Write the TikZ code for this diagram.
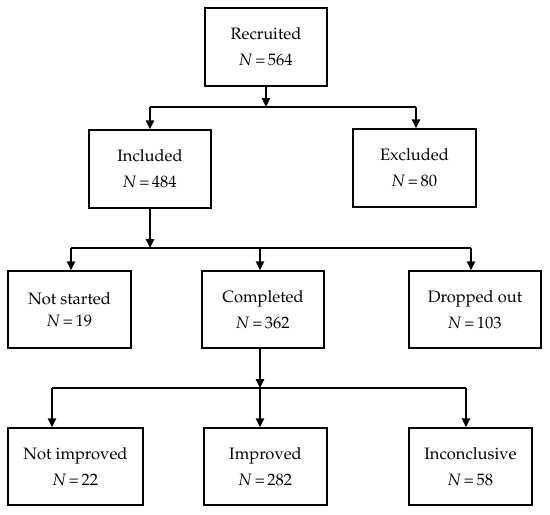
\documentclass[tikz,border=0pt]{standalone}
\usepackage[T1]{fontenc}
\usepackage{mathpazo}
\usetikzlibrary{arrows.meta}

\tikzset{
  box/.style={draw, line width=1.5pt, minimum width=122pt, minimum height=78pt,
    inner sep=0pt, align=center, font=\fontsize{16.5}{26}\selectfont},
  link/.style={line width=1.5pt},
  arr/.style={link, -{Triangle[length=9pt,width=8.5pt]}}
}
\newcommand{\Nval}[1]{\textit{N}\,=\,#1}

\begin{document}
\begin{tikzpicture}[x=1pt,y=-1pt]
\useasboundingbox (0,0) rectangle (550,515);

% boxes
\node[box] (rec) at (266,47) {Recruited\\\Nval{564}};
\node[box] (inc) at (150,169) {Included\\\Nval{484}};
\node[box, minimum width=123pt] (exc) at (414.5,168) {Excluded\\\Nval{80}};
\node[box, minimum width=123pt, minimum height=77pt] (nst) at (69.5,309.5) {Not started\\[-4pt]\Nval{19}};
\node[box, minimum height=77pt] (com) at (263,309.5) {Completed\\\Nval{362}};
\node[box, minimum width=132pt, minimum height=77pt] (dro) at (475,309.5) {Dropped out\\\Nval{103}};
\node[box, minimum width=135pt, minimum height=77pt] (nim) at (75.5,466.5) {Not improved\\\Nval{22}};
\node[box, minimum width=123pt, minimum height=77pt] (imp) at (265.5,466.5) {Improved\\\Nval{282}};
\node[box, minimum width=123pt, minimum height=77pt] (inl) at (470.5,466.5) {Inconclusive\\\Nval{58}};

% branch points
\coordinate (s1) at (266,107);
\coordinate (l1) at (150,107);
\coordinate (r1) at (416,107);
\coordinate (s2) at (150,248);
\coordinate (l2) at (71,248);
\coordinate (m2) at (260,248);
\coordinate (r2) at (471,248);
\coordinate (s3) at (260,388);
\coordinate (l3) at (52,388);
\coordinate (m3) at (260,388);
\coordinate (r3) at (466,388);

% connectors
\draw[arr] (rec.south) -- (s1);
\draw[link] (l1) -- (r1);
\draw[arr] (l1) -- (inc.north);
\draw[arr] (r1) -- (r1 |- exc.north);

\draw[arr] (inc.south) -- (s2);
\draw[link] (l2) -- (r2);
\draw[arr] (l2) -- (l2 |- nst.north);
\draw[arr] (m2) -- (m2 |- com.north);
\draw[arr] (r2) -- (r2 |- dro.north);

\draw[arr] (s3 |- com.south) -- (s3);
\draw[link] (l3) -- (r3);
\draw[arr] (l3) -- (l3 |- nim.north);
\draw[arr] (m3) -- (m3 |- imp.north);
\draw[arr] (r3) -- (r3 |- inl.north);
\end{tikzpicture}
\end{document}
